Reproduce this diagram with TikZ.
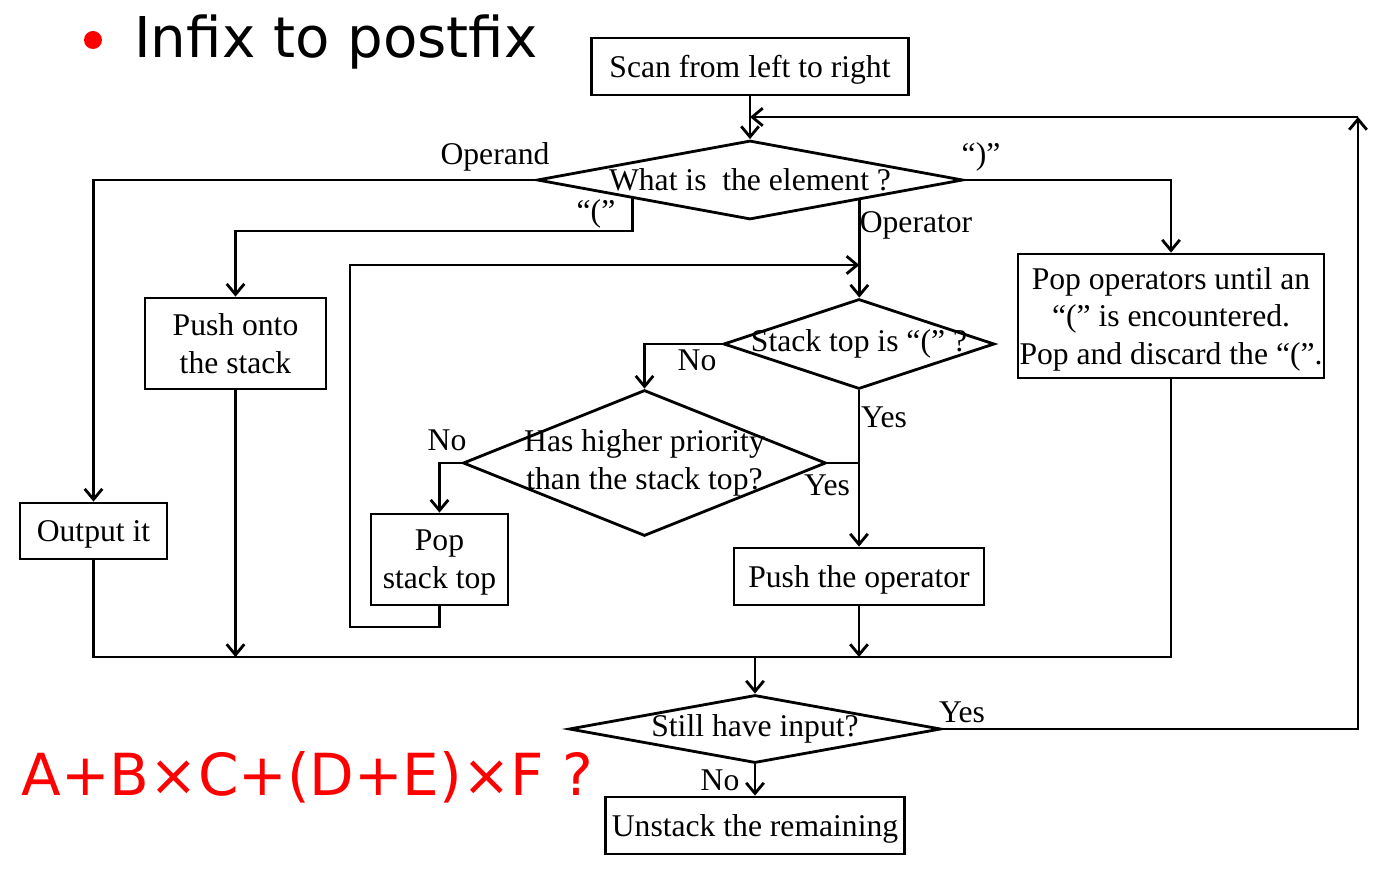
\documentclass[tikz,border=0pt]{standalone}
\usepackage{fontspec}
\setmainfont{Liberation Serif}
\newfontfamily\slidefont{DejaVu Sans}
\usetikzlibrary{shapes.geometric,calc,arrows.meta}
\tikzset{
  block/.style={draw,rectangle,inner sep=0pt,align=center,text depth=0pt},
  decision/.style={draw,diamond,inner sep=0pt},
  tag/.style={inner sep=1pt},
}

\begin{document}
\begin{tikzpicture}[x=0.02cm,y=-0.02cm,line width=1.6pt,
    >={Straight Barb[length=6pt,width=10pt]},
    font=\fontsize{18}{21.6}\selectfont]
  \useasboundingbox (0,0) rectangle (1389,888);

  % heading and example
  \node[circle,fill=red,minimum size=0.36cm,inner sep=0pt,draw=none] (dot) at (93,40) {};
  \node[anchor=base west,inner sep=0pt,font=\slidefont\fontsize{32}{38}\selectfont] (title) at (133,58) {Infix to postfix};
  \node[anchor=base west,inner sep=0pt,text=red,font=\slidefont\fontsize{33}{40}\selectfont] (expr) at (20,795) {A+B×C+(D+E)×F ?};

  % boxes and decisions
  \node[block,minimum width=6.34cm,minimum height=1.14cm] (scan) at (750,66.5) {Scan from left to right};
  \node[decision,minimum width=8.52cm,minimum height=1.58cm,label=center:{What is\ \ the element ?}] (what) at (750,180) {};
  \node[block,minimum width=2.94cm,minimum height=1.12cm] (output) at (93.5,531) {Output it};
  \node[block,minimum width=3.62cm,minimum height=1.82cm] (push) at (235.5,343.5) {Push onto\\the stack};
  \node[block,minimum width=6.12cm,minimum height=2.48cm] (popop) at (1171,316) {Pop operators until an\\“(” is encountered.\\Pop and discard the “(”.};
  \node[decision,minimum width=5.42cm,minimum height=1.8cm,label=center:{Stack top is “(” ?}] (stack) at (859,344) {};
  \node[decision,minimum width=7.26cm,minimum height=2.92cm,label={[align=center]center:Has higher priority\\than the stack top?}] (prio) at (644.5,463) {};
  \node[block,minimum width=2.74cm,minimum height=1.82cm] (popst) at (439.5,559.5) {Pop\\stack top};
  \node[block,minimum width=5cm,minimum height=1.14cm] (pushop) at (859,576.5) {Push the operator};
  \node[decision,minimum width=7.44cm,minimum height=1.36cm,label=center:{Still have input?}] (still) at (755,729) {};
  \node[block,minimum width=5.98cm,minimum height=1.14cm] (unstack) at (755,825.5) {Unstack the remaining};

  % branch labels
  \node[tag] (lOperand) at (495,157) {Operand};
  \node[tag] (lLpar) at (596,214) {“(”};
  \node[tag] (lOperator) at (916,225) {Operator};
  \node[tag] (lRpar) at (981,157) {“)”};
  \node[tag] (lNoA) at (697,360) {No};
  \node[tag] (lYesA) at (884,417) {Yes};
  \node[tag] (lYesB) at (827,485) {Yes};
  \node[tag] (lNoB) at (447,440) {No};
  \node[tag] (lYesC) at (962,712) {Yes};
  \node[tag] (lNoC) at (720,780) {No};

  % helper points
  \coordinate (lpar) at ($(what.west)!0.45!(what.south)$);
  \coordinate (opr) at ($(what.south)!0.51!(what.east)$);
  \coordinate (back) at (1358,117);
  \coordinate (mergeL) at (output.south |- 0,657);
  \coordinate (mergeR) at (popop.south |- 0,657);

  % connectors
  \draw[->] (scan.south) -- (what.north);
  \draw[->] (what.west) -| (output.north);
  \draw[->] (lpar) |- (push.north |- 0,231) -- (push.north);
  \draw[->] (opr) -- (opr |- stack.north);
  \draw[->] (what.east) -| (popop.north);
  \draw[->] (stack.west) -| (prio.north);
  \draw[->] (stack.south) -- (pushop.north);
  \draw (prio.east) -- (prio.east -| stack.south);
  \draw[->] (prio.west) -| (popst.north);
  \draw[->] (popst.south) |- (350,627) |- (opr |- 0,265);
  \draw (output.south) -- (mergeL) -- (mergeR) -- (popop.south);
  \draw[->] (push.south) -- (push.south |- mergeL);
  \draw[->] (pushop.south) -- (pushop.south |- mergeL);
  \draw[->] (still.north |- mergeL) -- (still.north);
  \draw[->] (still.south) -- (unstack.north);
  \draw[->] (still.east) -| (back);
  \draw[->] (back) -- (scan.south |- back);
\end{tikzpicture}
\end{document}
